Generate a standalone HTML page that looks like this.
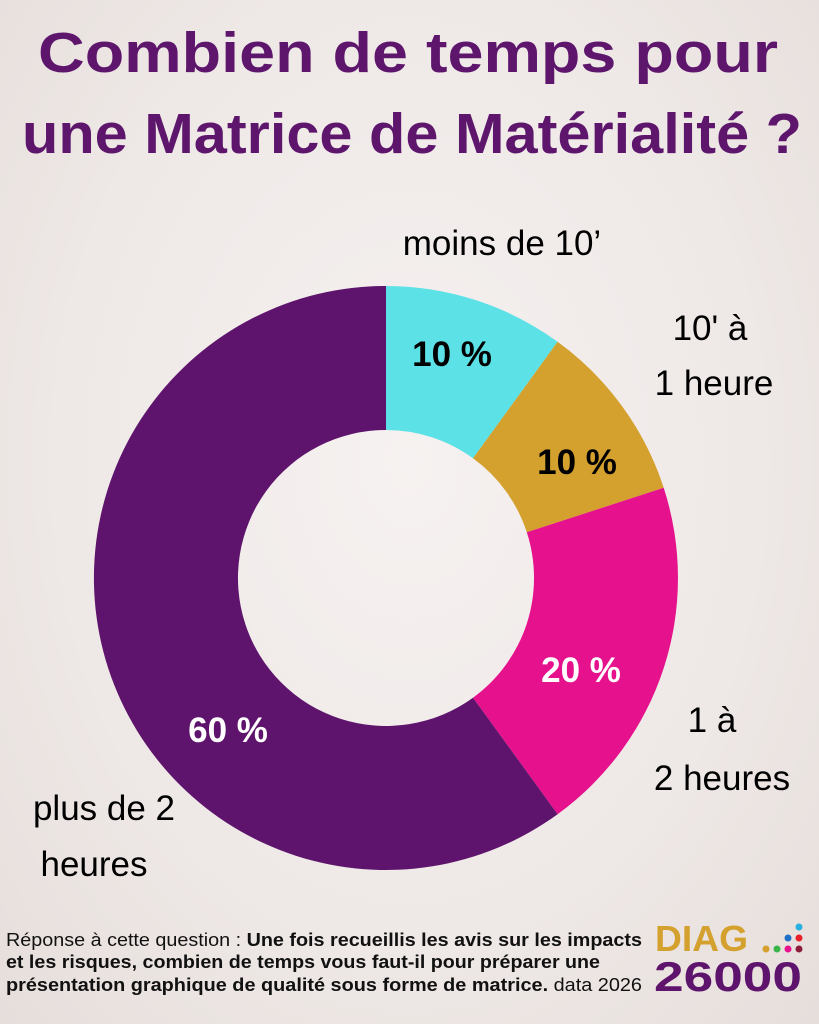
<!DOCTYPE html>
<html><head><meta charset="utf-8"><style>
body{margin:0;width:819px;height:1024px;overflow:hidden;font-family:"Liberation Sans",sans-serif;}
.bg{position:absolute;left:0;top:0;width:819px;height:1024px;background:radial-gradient(ellipse at 50% 45%,#f6f2f1 0%,#eee8e6 60%,#e6dedb 100%);}
</style></head><body>
<div class="bg"></div>
<svg width="819" height="1024" style="position:absolute;left:0;top:0">
<text x="38" y="72" textLength="740" lengthAdjust="spacingAndGlyphs" font-family="Liberation Sans" font-weight="bold" font-size="57" fill="#5e166d">Combien de temps pour</text>
<text x="22" y="153" textLength="780" lengthAdjust="spacingAndGlyphs" font-family="Liberation Sans" font-weight="bold" font-size="57" fill="#5e166d">une Matrice de Matérialité ?</text>
<path d="M386,286 A292,292 0 0 1 557.6,341.8 L473,458.3 A148,148 0 0 0 386,430 Z" fill="#5ce1e6"/>
<path d="M557.6,341.8 A292,292 0 0 1 663.7,487.8 L526.8,532.3 A148,148 0 0 0 473,458.3 Z" fill="#d4a02e"/>
<path d="M663.7,487.8 A292,292 0 0 1 557.6,814.2 L473,697.7 A148,148 0 0 0 526.8,532.3 Z" fill="#e6118c"/>
<path d="M557.6,814.2 A292,292 0 1 1 386,286 L386,430 A148,148 0 1 0 473,697.7 Z" fill="#5e146c"/>
<g font-family="Liberation Sans" font-weight="bold" font-size="35" text-anchor="middle">
<text x="452" y="366" fill="#000">10 %</text>
<text x="577" y="474" fill="#000">10 %</text>
<text x="581" y="682" fill="#fff">20 %</text>
<text x="228" y="742" fill="#fff">60 %</text>
</g>
<g font-family="Liberation Sans" font-size="35" fill="#000" text-anchor="middle">
<text x="502" y="255">moins de 10’</text>
<text x="710" y="340">10' à</text>
<text x="714" y="395">1 heure</text>
<text x="712" y="732">1 à</text>
<text x="722" y="790">2 heures</text>
<text x="104" y="820">plus de 2</text>
<text x="94" y="876">heures</text>
</g>
<g font-family="Liberation Sans" font-size="18" fill="#111">
<text x="6" y="946" textLength="636" lengthAdjust="spacingAndGlyphs">Réponse à cette question : <tspan font-weight="bold">Une fois recueillis les avis sur les impacts</tspan></text>
<text x="6" y="968" textLength="594" lengthAdjust="spacingAndGlyphs" font-weight="bold">et les risques, combien de temps vous faut-il pour préparer une</text>
<text x="6" y="991" textLength="636" lengthAdjust="spacingAndGlyphs"><tspan font-weight="bold">présentation graphique de qualité sous forme de matrice.</tspan> data 2026</text>
</g>
<text x="655" y="951" textLength="93" lengthAdjust="spacingAndGlyphs" font-family="Liberation Sans" font-weight="bold" font-size="36" fill="#d4a02e">DIAG</text>
<text x="654" y="991" textLength="148" lengthAdjust="spacingAndGlyphs" font-family="Liberation Sans" font-weight="bold" font-size="42" fill="#5e146c">26000</text>
<circle cx="766" cy="949" r="3.5" fill="#d4a02e"/>
<circle cx="777" cy="949" r="3.5" fill="#3ab54a"/>
<circle cx="788" cy="949" r="3.5" fill="#e6118c"/>
<circle cx="799" cy="949" r="3.5" fill="#8b1d3a"/>
<circle cx="788" cy="938" r="3.5" fill="#1f6fc5"/>
<circle cx="799" cy="938" r="3.5" fill="#e8202a"/>
<circle cx="799" cy="927" r="3.5" fill="#27b0e0"/>
</svg>
</body></html>
